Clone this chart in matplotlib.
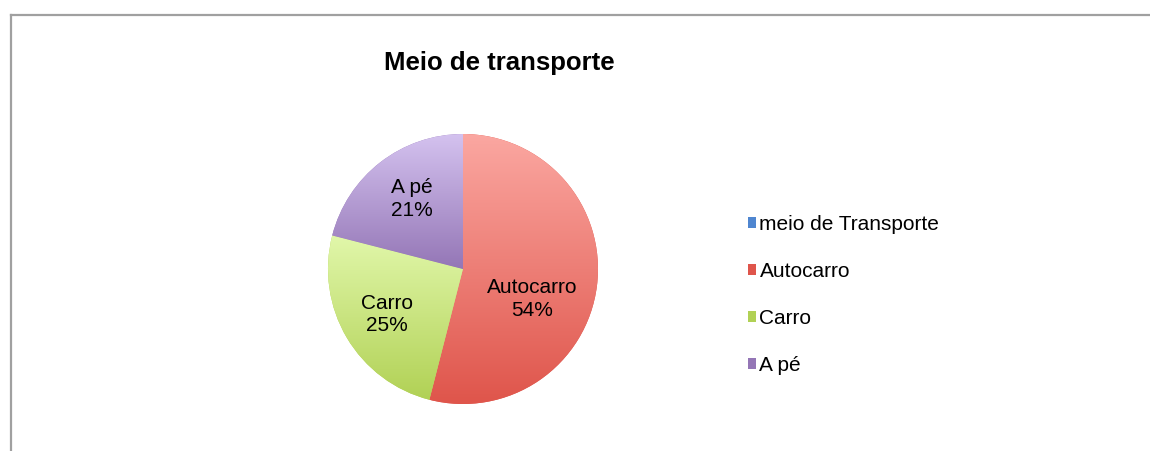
import numpy as np
import matplotlib
matplotlib.use("Agg")
import matplotlib.pyplot as plt
from matplotlib.patches import Patch
from matplotlib.lines import Line2D
from matplotlib.colors import LinearSegmentedColormap

plt.rcParams['font.family'] = ['Liberation Sans', 'DejaVu Sans']

# dados
categorias = ["meio de Transporte", "Autocarro", "Carro", "A pé"]
valores = [0, 54, 25, 21]
cor_topo = ["#8fb8ec", "#fba7a1", "#e1f7aa", "#d4c2ef"]
cor_base = ["#4f86d0", "#df554b", "#b1d155", "#9476b6"]
titulo = "Meio de transporte"
# deslocamento dos rótulos (pontos), como o Excel os põe
desloc = {"Autocarro": (-10, -14), "Carro": (-3, -2), "A pé": (0, 3)}

fig = plt.figure(figsize=(11.5, 4.51), dpi=100)

# moldura (só topo e esquerda visíveis)
fig.add_artist(Line2D([11 / 1150, 1], [1 - 15 / 451, 1 - 15 / 451], color="#a0a0a0", lw=1.6))
fig.add_artist(Line2D([11 / 1150, 11 / 1150], [0, 1 - 15 / 451], color="#a0a0a0", lw=1.6))

cx, cy, r = 463 / 1150, 1 - 269 / 451, 135
w, h = 2 * r / 1150, 2 * r / 451
ax = fig.add_axes([cx - w / 2, cy - h / 2, w, h])

idx = [i for i, v in enumerate(valores) if v > 0]
vals = [valores[i] for i in idx]
labs = [categorias[i] for i in idx]

wedges, texts, pcts = ax.pie(vals, startangle=90, counterclock=False,
                             colors=[cor_base[i] for i in idx],
                             autopct=lambda p: "", pctdistance=0.62,
                             wedgeprops=dict(linewidth=0))

# gradiente vertical em cada fatia
grad = np.linspace(1, 0, 256).reshape(-1, 1)
for k, wd in zip(idx, wedges):
    bb = wd.get_path().get_extents()
    cmap = LinearSegmentedColormap.from_list("g%d" % k, [cor_base[k], cor_topo[k]])
    im = ax.imshow(grad, cmap=cmap, extent=[bb.x0, bb.x1, bb.y0, bb.y1],
                   aspect="auto", origin="upper", zorder=wd.get_zorder() + 0.1)
    im.set_clip_path(wd)

for t, lab, v in zip(pcts, labs, vals):
    x, y = t.get_position()
    ax.annotate("%s\n%d%%" % (lab, v), (x, y), xytext=desloc[lab],
                textcoords="offset points", ha="center", va="center",
                fontsize=15, linespacing=1.25, zorder=5)
    t.set_visible(False)

ax.set_xlim(-1, 1)
ax.set_ylim(-1, 1)
ax.set_aspect("equal")
ax.axis("off")

fig.text(499 / 1150, 1 - 63 / 451, titulo, fontsize=18.5, fontweight="bold",
         ha="center", va="center")

handles = [Patch(facecolor=c, edgecolor="none") for c in cor_base]
fig.legend(handles, categorias, loc="center left",
           bbox_to_anchor=(748 / 1150, 1 - 295 / 451), frameon=False,
           fontsize=15, handlelength=0.4, handleheight=0.4,
           handletextpad=0.15, labelspacing=1.35, borderpad=0, borderaxespad=0)

fig.savefig("out.png", dpi=100, facecolor="white")
